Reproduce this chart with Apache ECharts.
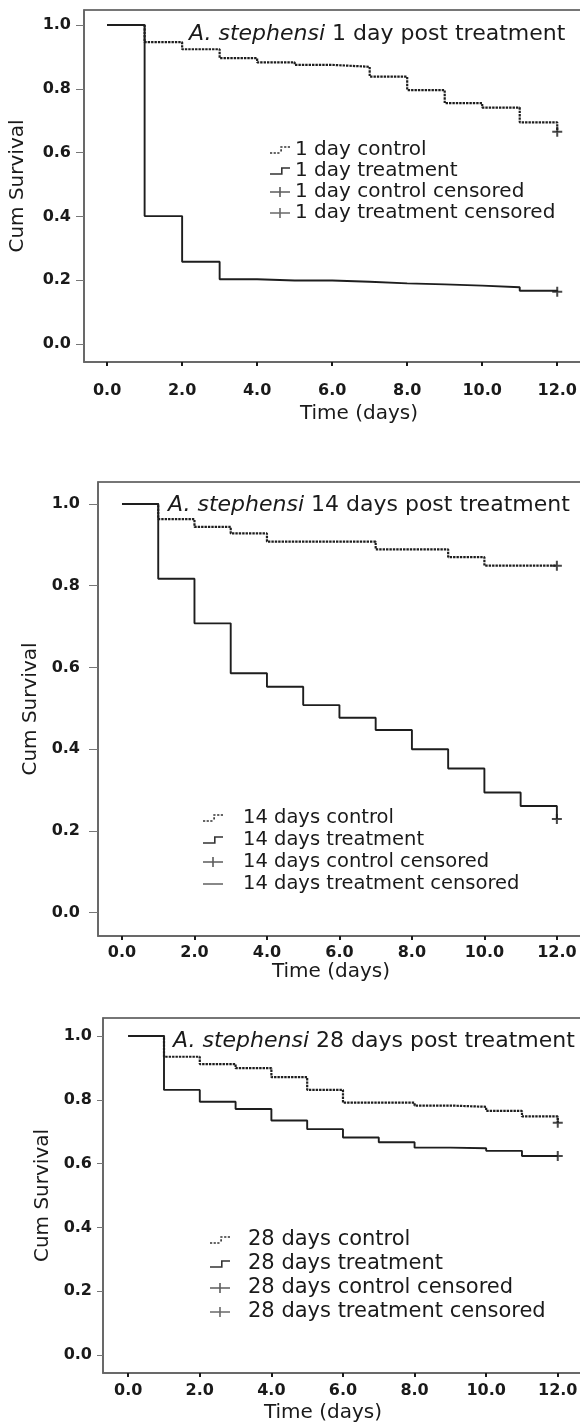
<!DOCTYPE html>
<html><head><meta charset="utf-8">
<script src="https://cdn.jsdelivr.net/npm/echarts@6/dist/echarts.min.js"></script>
<style>html,body{margin:0;padding:0;background:#fff;overflow:hidden;width:580px}#c{width:620px;height:1424px}</style>
</head><body><div id="c"></div>
<script>
// ---- data ----
const days = [0,1,2,3,4,5,6,7,8,9,10,11,12];
const xTickValues = [0,2,4,6,8,10,12];
const xTickLabels = ['0.0','2.0','4.0','6.0','8.0','10.0','12.0'];
const yTickValues = [0,0.2,0.4,0.6,0.8,1.0];
const yTickLabels = ['0.0','0.2','0.4','0.6','0.8','1.0'];
const speciesName = 'A. stephensi';
const groupNames = ['1 day','14 days','28 days'];
const panelSuffix = ['1 day post treatment','14 days post treatment','28 days post treatment'];
const xAxisTitle = 'Time (days)';
const yAxisTitle = 'Cum Survival';

const control1   = [1,0.946,0.924,0.896,0.883,0.875,0.869,0.838,0.796,0.755,0.741,0.695,0.665];
const treatment1 = [1,0.401,0.258,0.203,0.199,0.199,0.195,0.190,0.187,0.183,0.178,0.167,0.164];
const control14   = [1,0.963,0.944,0.928,0.908,0.908,0.908,0.889,0.889,0.870,0.849,0.849,0.849];
const treatment14 = [1,0.817,0.708,0.586,0.553,0.508,0.477,0.447,0.400,0.353,0.294,0.261,0.229];
const control28   = [1,0.935,0.912,0.899,0.871,0.831,0.791,0.791,0.782,0.778,0.765,0.748,0.728];
const treatment28 = [1,0.831,0.794,0.771,0.735,0.708,0.682,0.667,0.650,0.648,0.640,0.624,0.624];

const controls = [control1, control14, control28];
const treatments = [treatment1, treatment14, treatment28];

// ---- layout / style ----
const FONT = 'DejaVu Sans';
const INK = '#1a1a1a';
const grids = [
  {left: 80, top: 10, width: 520, height: 352},
  {left: 98, top: 482, width: 502, height: 454},
  {left: 103, top: 1018, width: 497, height: 355}
];
const xRanges = [[-0.616, 13.14], [-0.662, 13.19], [-0.704, 13.18]];
const yRanges = [[-0.0564, 1.047], [-0.057, 1.0538], [-0.0564, 1.0564]];
const xLabelMargin = [21, 9, 10];
const xNameGap = [42, 25, 30];
const xNamePad = [[0,0,0,34],[0,36,0,0],[0,57,0,0]];
const yLabelMargin = [13, 18, 11];
const yLabelPad = [[0,0,8,0],[0,0,0,0],[0,0,0,0]];
const yTickLen = [8, 9, 6];
const yNameGap = [56, 55, 50];
const titlePos = [{left: 189, top: 21}, {left: 168, top: 492}, {left: 173, top: 1028}];
const legendPos = [
  {left: 270, top: 139.5, lh: 21, fs: 20, pad: 0},
  {left: 203, top: 807, lh: 22, fs: 19.5, pad: 15},
  {left: 210, top: 1228, lh: 24, fs: 21, pad: 13}
];

const ICON_DOT = 'path://M0,8h2.2v1.6h-2.2z M3.6,8h2.2v1.6h-2.2z M7.2,8h2.2v1.6h-2.2z M10.2,5h1.6v2.2h-1.6z M10.2,2h2.2v1.6h-2.2z M14,2h2.2v1.6h-2.2z M17.6,2h2.2v1.6h-2.2z';
const ICON_STEP = 'path://M0,8h11v-6h9v1.6h-7.4v6h-12.6z';
const ICON_PLUS = 'path://M0,4.2h9.2v-4.2h1.6v4.2h9.2v1.6h-9.2v4.2h-1.6v-4.2h-9.2z';
const ICON_LINE = 'path://M0,4.2h20v1.6h-20z';
const PLUS = 'path://M4,0h2v4h4v2h-4v4h-2v-4h-4v-2h4z';

const option = {
  animation: false,
  backgroundColor: '#fff',
  title: [], legend: [], grid: [], xAxis: [], yAxis: [], series: []
};

for (let p = 0; p < 3; p++) {
  const g = groupNames[p];
  const nm = {
    c: g + ' control', t: g + ' treatment',
    cc: g + ' control censored', tc: g + ' treatment censored'
  };
  option.grid.push(Object.assign({show: true, borderColor: '#4a4a4a', borderWidth: 1.5, backgroundColor: 'transparent'}, grids[p]));
  option.title.push({
    text: '{it|' + speciesName + '} ' + panelSuffix[p],
    left: titlePos[p].left, top: titlePos[p].top, padding: 0,
    textStyle: {fontFamily: FONT, fontSize: 22, fontWeight: 'normal', color: INK, lineHeight: 26,
      rich: {it: {fontFamily: FONT, fontSize: 22, fontStyle: 'italic', color: INK, lineHeight: 26}}}
  });
  const lp = legendPos[p];
  option.legend.push({
    orient: 'vertical', left: lp.left, top: lp.top, padding: 0, itemGap: 0,
    itemWidth: 20, itemHeight: 10, selectedMode: false,
    textStyle: {fontFamily: FONT, fontSize: lp.fs, color: INK, lineHeight: lp.lh, padding: [0,0,0,lp.pad]},
    data: [
      {name: nm.c, icon: ICON_DOT, itemStyle: {color: '#333'}},
      {name: nm.t, icon: ICON_STEP, itemStyle: {color: '#333'}},
      {name: nm.cc, icon: ICON_PLUS, itemStyle: {color: '#333'}},
      {name: nm.tc, icon: p === 1 ? ICON_LINE : ICON_PLUS, itemStyle: {color: '#444'}}
    ]
  });
  option.xAxis.push({
    type: 'value', gridIndex: p, min: xRanges[p][0], max: xRanges[p][1],
    splitLine: {show: false},
    axisLine: {show: true, onZero: false, lineStyle: {color: '#666', width: 1.5}},
    axisTick: {show: true, customValues: xTickValues, length: 4, lineStyle: {color: INK, width: 2}},
    axisLabel: {customValues: xTickValues, margin: xLabelMargin[p],
      formatter: v => xTickLabels[xTickValues.indexOf(v)],
      fontFamily: FONT, fontWeight: 'bold', fontSize: 16, color: INK},
    name: xAxisTitle, nameLocation: 'middle', nameGap: xNameGap[p],
    nameTextStyle: {fontFamily: FONT, fontSize: 20, color: INK, padding: xNamePad[p]}
  });
  option.yAxis.push({
    type: 'value', gridIndex: p, min: yRanges[p][0], max: yRanges[p][1],
    splitLine: {show: false},
    axisLine: {show: true, onZero: false, lineStyle: {color: '#666', width: 1.5}},
    axisTick: {show: true, customValues: yTickValues, length: yTickLen[p], lineStyle: {color: '#777', width: 1}},
    axisLabel: {customValues: yTickValues, margin: yLabelMargin[p], padding: yLabelPad[p],
      formatter: v => yTickLabels[yTickValues.findIndex(t => Math.abs(t - v) < 1e-6)],
      fontFamily: FONT, fontWeight: 'bold', fontSize: 16, color: INK},
    name: yAxisTitle, nameLocation: 'middle', nameRotate: 90, nameGap: yNameGap[p],
    nameTextStyle: {fontFamily: FONT, fontSize: 20, color: INK}
  });
  const last = days.length - 1;
  option.series.push(
    {name: nm.c, type: 'line', xAxisIndex: p, yAxisIndex: p, step: 'end', symbol: 'none',
      lineStyle: {color: '#1e1e1e', width: 2.2, type: [2.4, 1]}, itemStyle: {color: '#333'},
      data: days.map((d, i) => [d, controls[p][i]])},
    {name: nm.t, type: 'line', xAxisIndex: p, yAxisIndex: p, step: 'end', symbol: 'none',
      lineStyle: {color: '#1e1e1e', width: 1.9}, itemStyle: {color: '#333'},
      data: days.map((d, i) => [d, treatments[p][i]])},
    {name: nm.cc, type: 'scatter', xAxisIndex: p, yAxisIndex: p, symbol: PLUS, symbolSize: 10,
      itemStyle: {color: '#1a1a1a'}, data: [[days[last], controls[p][last]]]},
    {name: nm.tc, type: 'scatter', xAxisIndex: p, yAxisIndex: p, symbol: PLUS, symbolSize: 10,
      itemStyle: {color: '#1a1a1a'}, data: [[days[last], treatments[p][last]]]}
  );
}

const chart = echarts.init(document.getElementById('c'), null, {renderer: 'canvas'});
chart.setOption(option);
</script>
</body></html>
